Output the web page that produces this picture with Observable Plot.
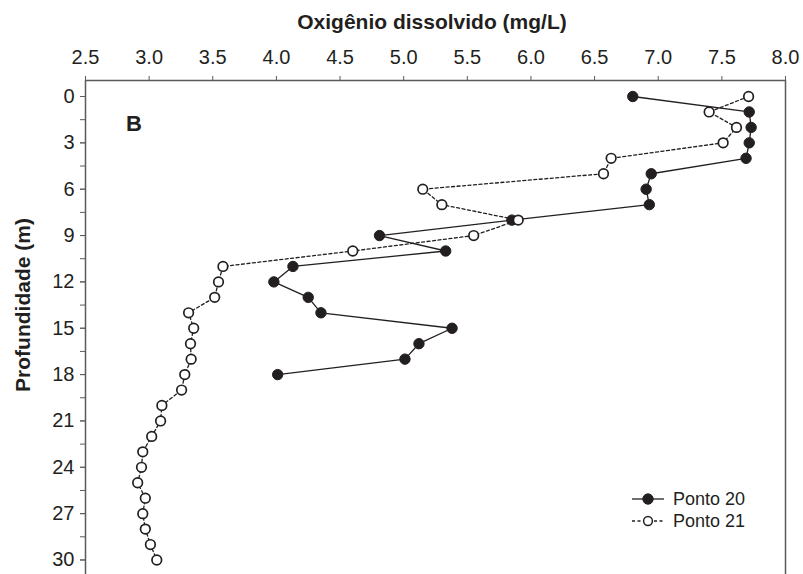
<!DOCTYPE html>
<html>
<head>
<meta charset="utf-8">
<script src="https://cdn.jsdelivr.net/npm/d3@7"></script>
<script src="https://cdn.jsdelivr.net/npm/@observablehq/plot@0.6"></script>
<style>
  html, body { margin: 0; padding: 0; background: #fff; }
  #chart svg { display: block; }
</style>
</head>
<body>
<div id="chart"></div>
<script>
// ---- data ----
const depth20 = [0,1,2,3,4,5,6,7,8,9,10,11,12,13,14,15,16,17,18];
const ponto20 = [6.80,7.715,7.73,7.715,7.69,6.945,6.905,6.93,5.85,4.81,5.33,4.13,3.98,4.25,4.35,5.38,5.12,5.01,4.01];
const depth21 = [0,1,2,3,4,5,6,7,8,9,10,11,12,13,14,15,16,17,18,19,20,21,22,23,24,25,26,27,28,29,30];
const ponto21 = [7.71,7.40,7.615,7.51,6.63,6.57,5.15,5.30,5.90,5.55,4.60,3.58,3.545,3.515,3.31,3.35,3.325,3.33,3.28,3.255,3.10,3.09,3.02,2.95,2.94,2.91,2.97,2.95,2.97,3.01,3.06];
const seriesNames = ["Ponto 20", "Ponto 21"];
const xTicks = [2.5,3.0,3.5,4.0,4.5,5.0,5.5,6.0,6.5,7.0,7.5,8.0];
const yTicks = [0,3,6,9,12,15,18,21,24,27,30];
const yMinorTicks = [0,1.5,3,4.5,6,7.5,9,10.5,12,13.5,15,16.5,18,19.5,21,22.5,24,25.5,27,28.5,30];
const xDomain = [2.5, 8.0];
const yDomain = [-1.036, 30.94];
const xTitle = "Oxigênio dissolvido (mg/L)";
const yTitle = "Profundidade (m)";
const panelLabel = [{x: 2.88, y: 1.75, text: "B"}];

const data20 = depth20.map((d, i) => ({depth: d, od: ponto20[i]}));
const data21 = depth21.map((d, i) => ({depth: d, od: ponto21[i]}));

const ink = "#231f20";
const axisInk = "#5a5a5c";
const font = "'Liberation Sans', Arial, Helvetica, sans-serif";

const W = 803, H = 574;
const plot = Plot.plot({
  width: W, height: H,
  marginLeft: 85, marginRight: 18, marginTop: 80, marginBottom: 0,
  style: {fontFamily: font, background: "#fff", color: ink, overflow: "visible"},
  x: {domain: xDomain},
  y: {domain: yDomain, reverse: true},
  marks: [
    Plot.ruleY([yDomain[0]], {stroke: axisInk, strokeWidth: 1.3}),
    Plot.ruleX(xDomain, {stroke: axisInk, strokeWidth: 1.5}),
    Plot.axisX({anchor: "top", ticks: xTicks, tickFormat: d => d.toFixed(1), tickSize: 5, tickPadding: 12, fontSize: 20, label: null, stroke: axisInk, fill: ink}),
    Plot.axisY({anchor: "left", ticks: yMinorTicks, tickFormat: () => "", tickSize: 5, label: null, stroke: axisInk}),
    Plot.axisY({anchor: "left", ticks: yTicks, tickSize: 5, tickPadding: 6, fontSize: 20, label: null, stroke: axisInk, fill: ink}),
    Plot.line(data20, {x: "od", y: "depth", stroke: ink, strokeWidth: 1.3}),
    Plot.dot(data20, {x: "od", y: "depth", r: 5.2, fill: ink, stroke: ink, strokeWidth: 1}),
    Plot.line(data21, {x: "od", y: "depth", stroke: ink, strokeWidth: 1.3, strokeDasharray: "3,2.5"}),
    Plot.dot(data21, {x: "od", y: "depth", r: 4.8, fill: "#fff", stroke: ink, strokeWidth: 1.7}),
    Plot.text(panelLabel, {x: "x", y: "y", text: "text", fontSize: 22, fontWeight: "bold", fill: ink})
  ]
});

const svg = d3.select(plot);
// axis titles
svg.append("text").attr("x", 432).attr("y", 29).attr("text-anchor", "middle")
  .attr("font-family", font).attr("font-size", 21).attr("font-weight", "bold").attr("fill", ink)
  .text(xTitle);
svg.append("text").attr("transform", "translate(30,305) rotate(-90)").attr("text-anchor", "middle")
  .attr("font-family", font).attr("font-size", 21).attr("font-weight", "bold").attr("fill", ink)
  .text(yTitle);

// legend
const lg = svg.append("g").attr("font-family", font).attr("font-size", 18).attr("fill", ink);
seriesNames.forEach((name, i) => {
  const yy = 499 + i * 22;
  lg.append("line").attr("x1", 632).attr("x2", 664).attr("y1", yy).attr("y2", yy)
    .attr("stroke", ink).attr("stroke-width", 1.3)
    .attr("stroke-dasharray", i === 1 ? "3,2.5" : null);
  lg.append("circle").attr("cx", 648).attr("cy", yy).attr("r", i === 0 ? 5.2 : 4.4)
    .attr("fill", i === 0 ? ink : "#fff").attr("stroke", ink).attr("stroke-width", i === 0 ? 1 : 1.5);
  lg.append("text").attr("x", 673).attr("y", yy).attr("dy", "0.35em").attr("text-anchor", "start").text(name);
});

document.getElementById("chart").appendChild(plot);
</script>
</body>
</html>
